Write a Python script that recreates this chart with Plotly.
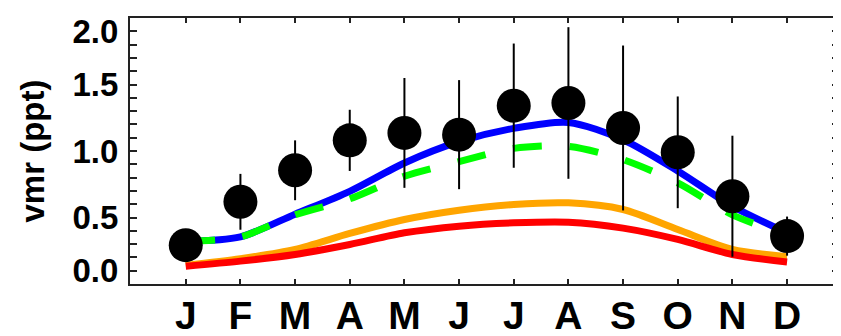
import plotly.graph_objects as go

months = ["J", "F", "M", "A", "M", "J", "J", "A", "S", "O", "N", "D"]
month_num = list(range(1, 13))

obs = [0.292, 0.618, 0.855, 1.08, 1.136, 1.123, 1.341, 1.361, 1.173, 0.99, 0.66, 0.36]
obs_err = [0.08, 0.21, 0.225, 0.23, 0.413, 0.41, 0.467, 0.57, 0.62, 0.42, 0.455, 0.147]

blue = [0.322, 0.355, 0.525, 0.697, 0.91, 1.07, 1.17, 1.215, 1.085, 0.85, 0.585, 0.385]
green = [0.322, 0.355, 0.52, 0.64, 0.81, 0.92, 1.02, 1.035, 0.935, 0.76, 0.52, 0.37]
orange = [0.14, 0.19, 0.26, 0.38, 0.485, 0.555, 0.598, 0.61, 0.56, 0.41, 0.26, 0.205]
red = [0.134, 0.172, 0.222, 0.297, 0.385, 0.435, 0.46, 0.465, 0.42, 0.335, 0.222, 0.165]

y_label_vals = [0.1, 0.5, 1.0, 1.5, 1.9]
y_label_text = ["0.0", "0.5", "1.0", "1.5", "2.0"]
y_major_vals = [0.5, 1.0, 1.5]

FONT = "Liberation Sans"

fig = go.Figure()
fig.add_trace(go.Scatter(x=month_num, y=orange, mode="lines",
                         line=dict(color="#ffa500", width=7, shape="spline", smoothing=0.8)))
fig.add_trace(go.Scatter(x=month_num, y=red, mode="lines",
                         line=dict(color="#ff0000", width=7, shape="spline", smoothing=0.8)))
fig.add_trace(go.Scatter(x=month_num, y=blue, mode="lines",
                         line=dict(color="#0000ff", width=7, shape="spline", smoothing=0.8)))
fig.add_trace(go.Scatter(x=month_num, y=green, mode="lines",
                         line=dict(color="#00ff00", width=7, shape="spline", smoothing=0.8,
                                   dash="29px,28px")))
fig.add_trace(go.Scatter(x=month_num, y=obs, mode="markers",
                         marker=dict(color="black", size=34),
                         error_y=dict(type="data", array=obs_err, color="black",
                                      thickness=2, width=0)))

# the page body has an 8px margin, so the figure is sized to fill the rest of the window
fig.update_layout(
    width=833, height=328,
    margin=dict(l=122, r=2, t=10, b=52, autoexpand=False),
    paper_bgcolor="white", plot_bgcolor="white",
    showlegend=False,
    font=dict(family=FONT, color="black"),
    xaxis=dict(
        range=[-0.02, 12.95], automargin=False,
        tickvals=month_num, ticktext=months,
        ticks="inside", ticklen=5, tickwidth=2, tickcolor="#222",
        showline=True, linewidth=2, linecolor="#222", mirror="ticks",
        showgrid=False, zeroline=False,
        tickfont=dict(family=FONT, size=39, color="black", weight="bold"),
        ticklabelstandoff=-4,
    ),
    yaxis=dict(
        range=[0, 2.0], automargin=False,
        tickvals=y_label_vals, ticktext=y_label_text,
        ticks="inside", ticklen=7, tickwidth=2, tickcolor="#222",
        minor=dict(dtick=0.1, ticks="inside", ticklen=7, tickwidth=2, tickcolor="#222"),
        showline=True, linewidth=2, linecolor="#222", mirror="ticks",
        showgrid=False, zeroline=False,
        tickfont=dict(family=FONT, size=33, color="black", weight="bold"),
        ticklabelstandoff=3,
        title=dict(text="vmr (ppt)", font=dict(family=FONT, size=33, color="black", weight="bold"),
                   standoff=18),
    ),
    yaxis2=dict(
        range=[0, 2.0], overlaying="y", side="left", automargin=False,
        tickvals=y_major_vals, showticklabels=False,
        ticks="inside", ticklen=15, tickwidth=2, tickcolor="#222",
        showline=False, mirror="ticks", showgrid=False, zeroline=False,
    ),
)

fig.write_html("out.html")
